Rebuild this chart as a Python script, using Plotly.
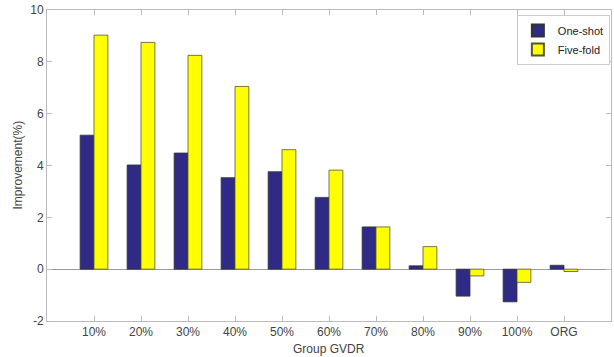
import plotly.graph_objects as go

categories = ["10%", "20%", "30%", "40%", "50%", "60%", "70%", "80%", "90%", "100%", "ORG"]
one_shot = [5.17, 4.02, 4.48, 3.53, 3.76, 2.77, 1.63, 0.13, -1.04, -1.26, 0.15]
five_fold = [9.03, 8.75, 8.25, 7.05, 4.61, 3.82, 1.63, 0.87, -0.26, -0.51, -0.09]
y_ticks = [-2, 0, 2, 4, 6, 8, 10]
y_ticktext = ["-2", "0", "2", "4", "6", "8", "10"]

font = "Liberation Sans, Arial, sans-serif"

fig = go.Figure()
fig.add_trace(go.Bar(x=categories, y=one_shot, name="One-shot",
                     marker=dict(color="#2e2a86", line=dict(color="#333333", width=0.8))))
fig.add_trace(go.Bar(x=categories, y=five_fold, name="Five-fold",
                     marker=dict(color="#ffff00", line=dict(color="#555533", width=0.8))))

fig.update_layout(
    width=614, height=357,
    margin=dict(l=47, r=3, t=10, b=36),
    paper_bgcolor="white", plot_bgcolor="white",
    barmode="group", bargap=0.41, bargroupgap=0,
    font=dict(family=font, size=12, color="#333333"),
    legend=dict(x=0.998, y=0.984, xanchor="right", yanchor="top",
                bgcolor="white", bordercolor="#cccccc", borderwidth=1,
                font=dict(size=11, color="#222222"), itemwidth=30,
                tracegroupgap=0, itemsizing="constant"),
    xaxis=dict(type="category", range=[-1, 11], showline=True, linecolor="#bbbbbb",
               linewidth=1, mirror="ticks", ticks="inside", ticklen=5, tickcolor="#bbbbbb",
               showgrid=False, tickfont=dict(size=12, color="#444444"), automargin=False),
    yaxis=dict(range=[-2, 10], tickvals=y_ticks, ticktext=y_ticktext, showline=True,
               linecolor="#bbbbbb", linewidth=1, mirror="ticks", ticks="inside", ticklen=5,
               tickcolor="#bbbbbb", showgrid=False, zeroline=True, zerolinecolor="#999999",
               zerolinewidth=1, tickfont=dict(size=12, color="#444444"), automargin=False),
    annotations=[
        dict(text="Group GVDR", xref="paper", yref="paper", x=0.5, y=0, yshift=-28,
             xanchor="center", yanchor="middle", showarrow=False,
             font=dict(size=12, color="#444444")),
        dict(text="Improvement(%)", xref="paper", yref="paper", x=0, y=0.5, xshift=-30,
             xanchor="center", yanchor="middle", textangle=-90, showarrow=False,
             font=dict(size=12, color="#444444")),
    ],
)

fig.write_html("out.html", config={"displayModeBar": False},
               post_script="document.body.style.margin='0';")
